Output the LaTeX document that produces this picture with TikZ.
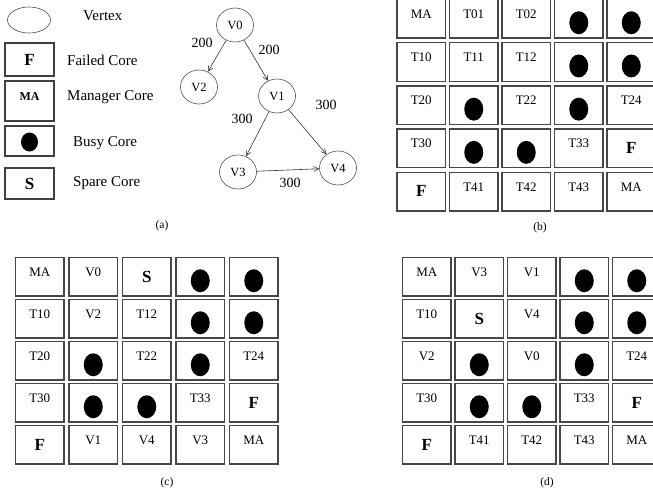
\documentclass[tikz,border=0pt]{standalone}
\usepackage{fontspec}
\setmainfont{Liberation Serif}
\usetikzlibrary{shapes.geometric,arrows.meta}
\newcommand\fs[1]{\fontsize{#1}{#1}\selectfont}
\newcommand\mkcell[5]{%
  \node[cell] (#3) at (#1,#2) {};
  \csname mk#4\endcsname{#3}{#5}}
\newcommand\mkT[2]{\node[ctext] (#1t) at ([yshift=-14.5pt]#1.north) {#2};}
\newcommand\mkB[2]{\node[dot] (#1d) at ([yshift=-4pt]#1.center) {};}
\newcommand\mkF[2]{\node[btext] (#1t) at ([yshift=-19pt]#1.north) {#2};}
\newcommand\mkgrid[6]{%
  \foreach \colI/\rowI/\kindI/\txtI in {#6} {
    \pgfmathsetmacro\xxI{#1+\colI*#3}
    \pgfmathsetmacro\yyI{#2+\rowI*#4}
    \mkcell{\xxI}{\yyI}{#5\colI\rowI}{\kindI}{\txtI}
  }}
\tikzset{
  cell/.style={draw=black!72, line width=1.4pt, minimum width=48.5pt, minimum height=38.5pt, inner sep=0pt, outer sep=0pt, anchor=north west},
  ctext/.style={inner sep=0pt, font=\fs{13}},
  btext/.style={inner sep=0pt, font=\fs{17}\bfseries},
  dot/.style={ellipse, fill=black, minimum width=19pt, minimum height=23pt, inner sep=0pt},
  lbox/.style={draw=black!75, line width=1.2pt, minimum width=49pt, inner sep=0pt},
  ltext/.style={anchor=west, inner sep=0pt, font=\fs{15}},
  vert/.style={ellipse, draw=black!70, line width=0.6pt, minimum width=37pt, minimum height=34pt, inner sep=0pt, font=\fs{12.5}},
  wt/.style={inner sep=0pt, font=\fs{14}},
  captxt/.style={inner sep=0pt, font=\fs{11.5}},
  conn/.style={draw=black!80, line width=0.6pt, -{Straight Barb[length=5pt,width=5pt]}}
}
\begin{document}
\begin{tikzpicture}[x=1pt,y=-1pt]
\useasboundingbox (0,0) rectangle (653,493);
% legend
\node[ellipse, draw=black!70, line width=0.6pt, minimum width=43pt, minimum height=26pt, inner sep=0pt] (lv) at (29,20) {};
\node[ltext] (lvt) at (83,16) {Vertex};
\node[lbox, minimum height=33pt] (lf) at (29.5,59.5) {};
\node[btext] (lft) at (lf.center) {F};
\node[ltext] (lfl) at (67,60) {Failed Core};
\node[lbox, minimum height=40pt] (lm) at (29.5,101) {};
\node[inner sep=0pt, font=\fs{12}\bfseries] (lmt) at (29.5,97) {MA};
\node[ltext] (lml) at (67,97) {Manager Core};
\node[lbox, minimum height=30pt] (lb) at (29.5,141) {};
\node[ellipse, fill=black, minimum width=17pt, minimum height=19pt, inner sep=0pt] (lbd) at (29.5,142) {};
\node[ltext] (lbl) at (73,143) {Busy Core};
\node[lbox, minimum height=31pt] (ls) at (29.5,183.5) {};
\node[btext] (lst) at (ls.center) {S};
\node[ltext] (lsl) at (73,183) {Spare Core};
\node[captxt] (capa) at (162,226) {(a)};
% graph
\node[vert] (v0) at (235,25) {V0};
\node[vert] (v2) at (199,87) {V2};
\node[vert] (v1) at (277,96) {V1};
\node[vert] (v3) at (238,172) {V3};
\node[vert] (v4) at (338,168) {V4};
\draw[conn] (v0) -- (v2);
\draw[conn] (v0) -- (v1);
\draw[conn] (v1) -- (v3);
\draw[conn] (v1) -- (v4);
\draw[conn] (v3) -- (v4);
\node[wt] (w02) at (202,43) {200};
\node[wt] (w01) at (269,50) {200};
\node[wt] (w14) at (326,105) {300};
\node[wt] (w13) at (242,119) {300};
\node[wt] (w34) at (290,183) {300};
% grid (b)
\mkgrid{397}{-0.5}{52.5}{43.2}{b}{0/0/T/MA,1/0/T/T01,2/0/T/T02,3/0/B/,4/0/B/,
 0/1/T/T10,1/1/T/T11,2/1/T/T12,3/1/B/,4/1/B/,
 0/2/T/T20,1/2/B/,2/2/T/T22,3/2/B/,4/2/T/T24,
 0/3/T/T30,1/3/B/,2/3/B/,3/3/T/T33,4/3/F/F,
 0/4/F/F,1/4/T/T41,2/4/T/T42,3/4/T/T43,4/4/T/MA}
\node[captxt] (capb) at (540,228) {(b)};
% grid (c)
\mkgrid{15.5}{257.5}{53.5}{42}{c}{0/0/T/MA,1/0/T/V0,2/0/F/S,3/0/B/,4/0/B/,
 0/1/T/T10,1/1/T/V2,2/1/T/T12,3/1/B/,4/1/B/,
 0/2/T/T20,1/2/B/,2/2/T/T22,3/2/B/,4/2/T/T24,
 0/3/T/T30,1/3/B/,2/3/B/,3/3/T/T33,4/3/F/F,
 0/4/F/F,1/4/T/V1,2/4/T/V4,3/4/T/V3,4/4/T/MA}
\node[captxt] (capc) at (167,483) {(c)};
% grid (d)
\mkgrid{402.5}{257.5}{52.5}{42}{d}{0/0/T/MA,1/0/T/V3,2/0/T/V1,3/0/B/,4/0/B/,
 0/1/T/T10,1/1/F/S,2/1/T/V4,3/1/B/,4/1/B/,
 0/2/T/V2,1/2/B/,2/2/T/V0,3/2/B/,4/2/T/T24,
 0/3/T/T30,1/3/B/,2/3/B/,3/3/T/T33,4/3/F/F,
 0/4/F/F,1/4/T/T41,2/4/T/T42,3/4/T/T43,4/4/T/MA}
\node[captxt] (capd) at (547,483) {(d)};
\end{tikzpicture}
\end{document}
